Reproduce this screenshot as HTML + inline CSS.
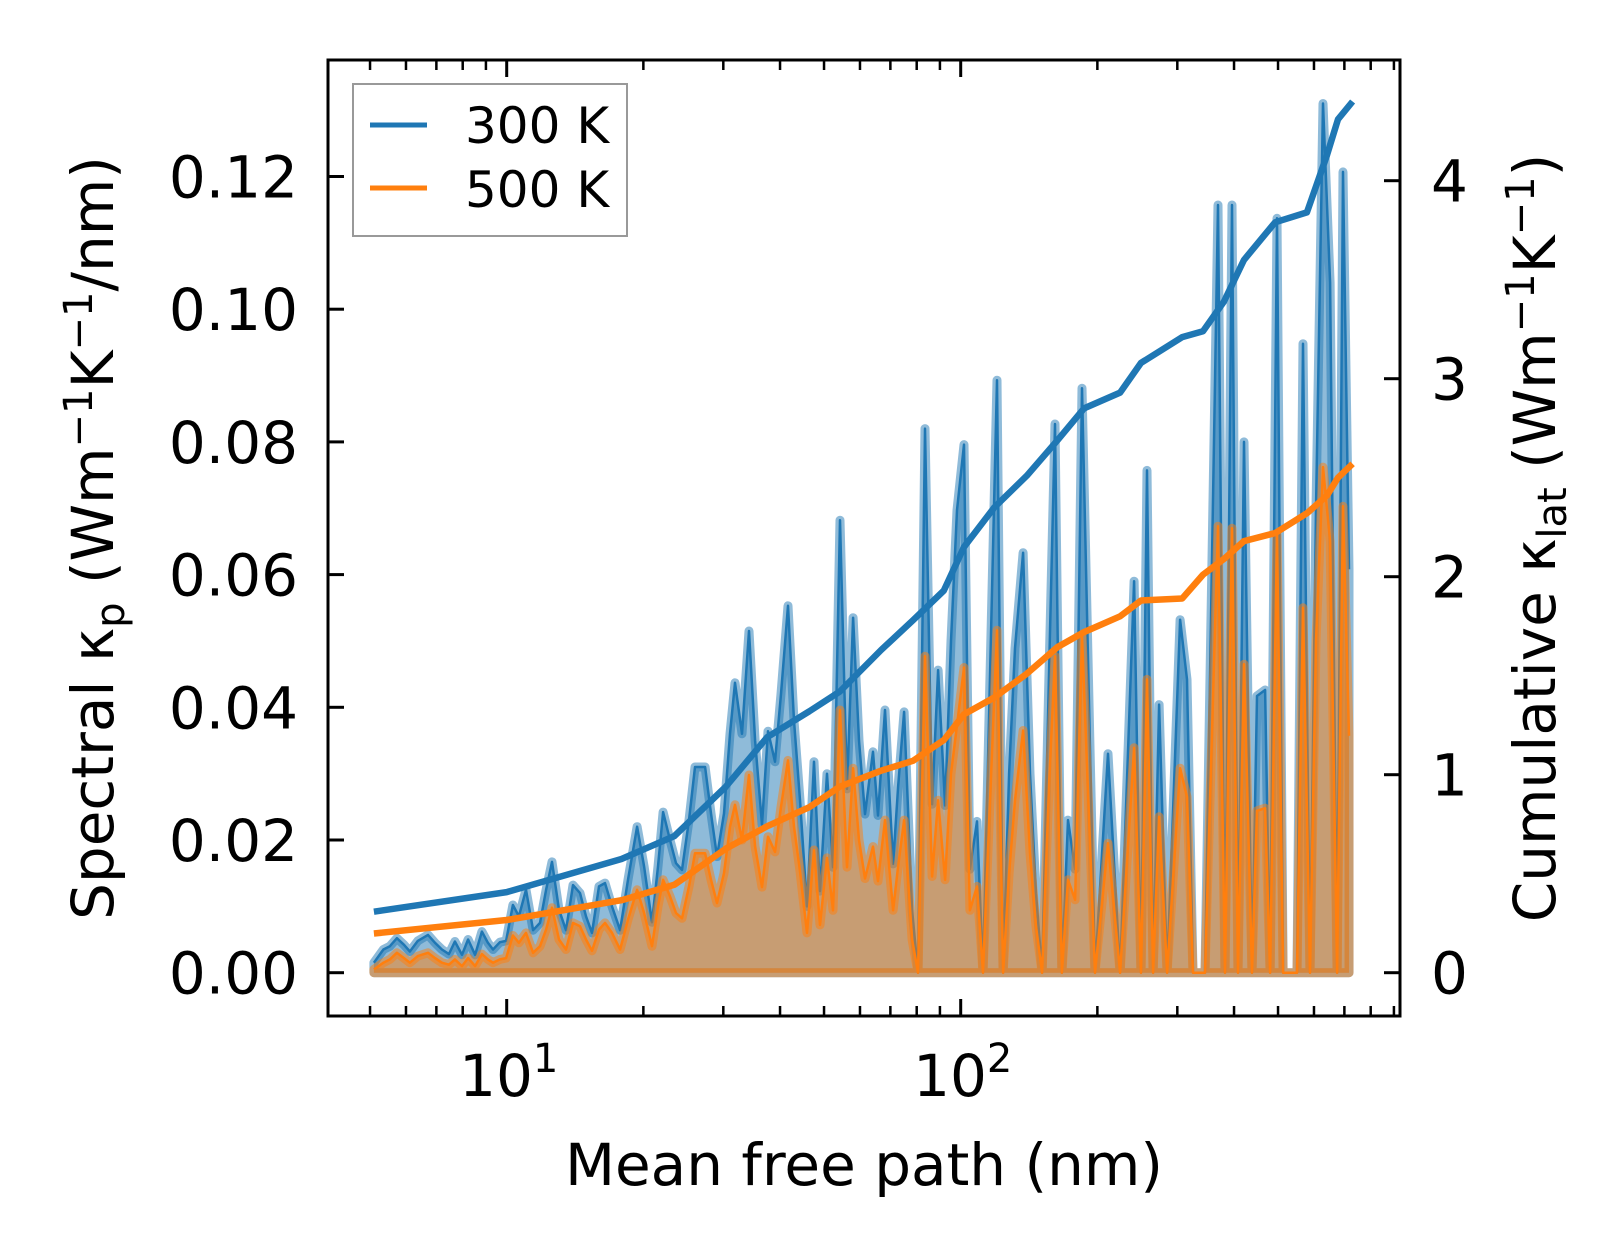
<!DOCTYPE html>
<html><head><meta charset="utf-8"><style>
html,body{margin:0;padding:0;background:#fff}
svg text{font-family:"DejaVu Sans","Liberation Sans",sans-serif;fill:#000}
</style></head><body>
<svg id="chart" width="1623" height="1254" viewBox="0 0 1623 1254" xmlns="http://www.w3.org/2000/svg">
<rect x="0" y="0" width="1623" height="1254" fill="#fff"/>
<g id="plot"></g>
<g id="axes"></g>
<g>
<rect x="353" y="84" width="274" height="152" fill="#fff" fill-opacity="0.8" stroke="#999" stroke-width="2"/>
<line x1="370" y1="125" x2="427" y2="125" stroke="#1f77b4" stroke-width="5"/>
<text x="465" y="143" font-size="50">300 K</text>
<line x1="370" y1="188" x2="427" y2="188" stroke="#ff7f0e" stroke-width="5"/>
<text x="465" y="207" font-size="50">500 K</text>
</g>
<text x="864" y="1185" font-size="58" text-anchor="middle">Mean free path (nm)</text>
<text transform="translate(113,538) rotate(-90)" font-size="58" text-anchor="middle">Spectral κ<tspan font-size="40" dy="11">p</tspan><tspan dy="-11"> (Wm</tspan><tspan font-size="40" dy="-21">−1</tspan><tspan dy="21">K</tspan><tspan font-size="40" dy="-21">−1</tspan><tspan dy="21">/nm)</tspan></text>
<text transform="translate(1555,538) rotate(-90)" font-size="58" text-anchor="middle">Cumulative κ<tspan font-size="40" dy="11">lat</tspan><tspan dy="-11"> (Wm</tspan><tspan font-size="40" dy="-21">−1</tspan><tspan dy="21">K</tspan><tspan font-size="40" dy="-21">−1</tspan><tspan dy="21">)</tspan></text>
</svg>
<script>
const mfp = [5.10,5.35,5.53,5.73,5.94,6.12,6.37,6.71,6.95,7.20,7.46,7.69,7.97,8.22,8.52,8.82,9.09,9.33,9.66,9.97,10.32,10.64,11.03,11.43,11.84,12.21,12.58,13.04,13.51,14.00,14.50,14.95,15.41,15.97,16.46,17.06,17.77,18.50,19.37,20.07,20.90,21.54,22.10,22.89,23.60,24.33,25.21,25.99,27.35,28.18,29.05,30.10,31.03,31.84,32.98,34.18,35.24,36.51,37.63,38.99,40.19,41.65,42.94,44.26,45.86,47.53,48.99,50.76,52.33,54.22,56.19,57.95,59.70,61.55,64.11,65.75,68.13,70.96,72.78,75.03,78.14,80.54,83.45,86.48,89.15,92.37,95.22,98.15,101.7,104.8,108.6,112.0,120.2,124.0,127.8,131.7,137.2,142.1,146.5,151.1,156.5,161.3,167.1,172.3,178.6,185.0,197.6,211.1,224.4,240.9,249.6,257.3,265.3,273.5,284.8,304.2,315.1,324.9,345.2,368.8,382.1,395.9,408.1,420.7,438.2,449.5,468.2,480.2,497.5,512.9,550.6,567.5,588.0,606.3,628.1,651.0,674.5,695.3,716.7];
const spec300 = [.0015,.0035,.004,.0052,.0042,.0032,.0048,.0057,.0045,.0035,.0028,.0047,.0027,.005,.0027,.0062,.0045,.0035,.0046,.0048,.0102,.0085,.0125,.0064,.0075,.0125,.0167,.0095,.0064,.0132,.012,.0085,.006,.013,.0135,.01,.0064,.014,.022,.016,.0076,.016,.0242,.02,.0165,.0155,.023,.031,.031,.024,.0175,.024,.036,.0437,.036,.0515,.035,.0223,.0364,.0318,.042,.0553,.038,.026,.010,.0318,.0123,.030,.0159,.0682,.0277,.0535,.035,.0239,.0333,.0237,.0396,.0164,.028,.0393,.0094,0,.082,.0254,.0456,.0252,.05,.0697,.0796,.0156,.0228,0,.0893,0,.03,.0489,.0633,.03,.012,0,.045,.0827,0,.023,.0156,.0881,0,.033,0,.059,0,.0757,0,.0404,0,.0532,.0442,0,0,.1157,0,.1157,0,.080,0,.0417,.0426,0,.1137,0,0,.0948,0,.07,.131,.104,0,.1207,.0608];
const spec500 = [.0005,.0015,.002,.003,.0022,.0015,.0025,.003,.0022,.0015,.0012,.002,.001,.0022,.001,.0028,.002,.0015,.002,.0022,.0056,.0045,.006,.003,.004,.0065,.0098,.005,.0035,.0075,.007,.005,.0033,.0065,.0075,.006,.0035,.008,.0125,.009,.004,.01,.014,.0115,.009,.0082,.013,.018,.018,.014,.0105,.015,.022,.0253,.02,.0298,.019,.0129,.0205,.0182,.025,.032,.022,.0153,.006,.0185,.0072,.0173,.0094,.0396,.0159,.0308,.02,.0142,.019,.0138,.023,.0094,.016,.023,.005,0,.0477,.0145,.026,.014,.03,.0373,.046,.0094,.013,0,.0516,0,.015,.026,.0365,.018,.007,0,.028,.0477,0,.014,.011,.0508,0,.0195,0,.0339,0,.0442,0,.0235,0,.0308,.0265,0,0,.0673,0,.067,0,.0465,0,.0244,.0248,0,.066,0,0,.055,0,.05,.0762,.065,0,.0703,.0357];
const cumMfp = [5.10,10.0,17.9,23.4,30.4,37.5,46.4,54.2,66.8,78.5,91.8,101.7,118.6,139.8,163.5,186.9,224.4,249.6,307.5,341.8,380.2,420.7,492.5,578.8,641.0,677.8,730];
const cum300 = [0.308,0.407,0.574,0.69,0.94,1.19,1.32,1.42,1.63,1.78,1.93,2.15,2.35,2.51,2.69,2.85,2.93,3.08,3.21,3.24,3.39,3.6,3.79,3.84,4.13,4.31,4.40];
const cum500 = [0.198,0.266,0.366,0.444,0.627,0.74,0.836,0.94,1.02,1.07,1.175,1.305,1.39,1.51,1.645,1.72,1.80,1.88,1.89,2.01,2.09,2.18,2.22,2.32,2.41,2.50,2.57];
const leftTicks = [0,0.02,0.04,0.06,0.08,0.10,0.12];
const leftTickLabels = ["0.00","0.02","0.04","0.06","0.08","0.10","0.12"];
const rightTicks = [0,1,2,3,4];
const rightTickLabels = ["0","1","2","3","4"];
const xMajor = [10,100];
const xMajorExp = ["1","2"];
const xMinor = [5,6,7,8,9,20,30,40,50,60,70,80,90,200,300,400,500,600,700,800,900];

const L=328,R=1400,T=60,B=1016;
const X = v => 506.7 + (Math.log10(v)-1)*454;
const Y = v => 972.7 - v*6635;
const Y2 = v => 972.7 - v*198;
const NS="http://www.w3.org/2000/svg";
function mk(tag, attrs, parent){const e=document.createElementNS(NS,tag);for(const k in attrs)e.setAttribute(k,attrs[k]);parent.appendChild(e);return e;}
const plot=document.getElementById('plot'), axes=document.getElementById('axes');

function spectral(vals, color, name){
  let d='M'+X(mfp[0])+','+Y(0);
  mfp.forEach((m,i)=>{d+=' L'+X(m).toFixed(1)+','+Y(vals[i]).toFixed(1);});
  d+=' L'+X(mfp[mfp.length-1])+','+Y(0)+' Z';
  const f=mk('path',{d:d,fill:color,'fill-opacity':0.5,stroke:color,'stroke-opacity':0.5,'stroke-width':9,'stroke-linejoin':'round'},plot);
  
  
  const pts=mfp.map((m,i)=>X(m).toFixed(1)+','+Y(vals[i]).toFixed(1)).join(' ');
  const l=mk('polyline',{points:pts,fill:'none',stroke:color,'stroke-width':2.5,'stroke-linejoin':'round'},plot);
  
  
}
spectral(spec300,'#1f77b4','300k');
spectral(spec500,'#ff7f0e','500k');
function cum(vals,color,name){
  const pts=cumMfp.map((m,i)=>X(m).toFixed(1)+','+Y2(vals[i]).toFixed(1)).join(' ');
  const l=mk('polyline',{points:pts,fill:'none',stroke:color,'stroke-width':6.5,'stroke-linejoin':'round'},plot);
  
  
}
cum(cum300,'#1f77b4','300k');
cum(cum500,'#ff7f0e','500k');

const frame=mk('rect',{x:L,y:T,width:R-L,height:B-T,fill:'none',stroke:'#000','stroke-width':3},axes);


leftTicks.forEach((v,i)=>{
  const t=mk('line',{x1:L,x2:L+16,y1:Y(v),y2:Y(v),stroke:'#000','stroke-width':3},axes);
  
  
  const s=mk('text',{x:298,y:Y(v)+21,'font-size':58,'text-anchor':'end'},axes);
  s.textContent=leftTickLabels[i];
  
  
});
rightTicks.forEach((v,i)=>{
  const t=mk('line',{x1:R-16,x2:R,y1:Y2(v),y2:Y2(v),stroke:'#000','stroke-width':3},axes);
  
  
  const s=mk('text',{x:1431,y:Y2(v)+21,'font-size':58},axes);
  s.textContent=rightTickLabels[i];
  
  
});
xMajor.forEach((v,i)=>{
  [[B,B-17],[T,T+17]].forEach(p=>{
    const t=mk('line',{x1:X(v),x2:X(v),y1:p[0],y2:p[1],stroke:'#000','stroke-width':3},axes);
    
    
  });
  const s=mk('text',{x:X(v)+2,y:1096,'font-size':58,'text-anchor':'middle'},axes);
  s.textContent='10';
  const sp=mk('tspan',{'font-size':40,dy:-24},s);
  sp.textContent=xMajorExp[i];
  
  
});
xMinor.forEach(v=>{
  [[B,B-10],[T,T+10]].forEach(p=>{
    const t=mk('line',{x1:X(v),x2:X(v),y1:p[0],y2:p[1],stroke:'#000','stroke-width':2.5},axes);
    
    
  });
});
</script>
</body></html>
